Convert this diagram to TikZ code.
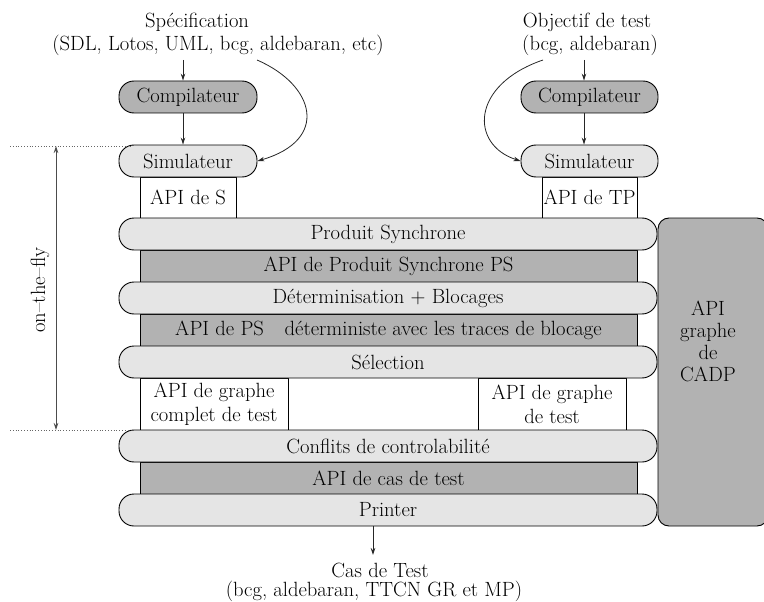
\documentclass[tikz,border=0pt]{standalone}
\usepackage{fontspec}
\usetikzlibrary{arrows.meta}

\definecolor{layerlight}{gray}{0.90}
\definecolor{layerdark}{gray}{0.70}

\tikzset{
  txt/.style={font=\fontsize{20.6}{24}\selectfont, inner sep=0pt},
  pill/.style={txt, draw, line width=0.9pt, rounded corners=15pt, fill=layerlight,
    minimum height=32pt},
  pilldark/.style={pill, fill=layerdark},
  apibox/.style={txt, draw, line width=0.9pt, fill=white, align=center},
  apidark/.style={txt, draw, line width=0.9pt, fill=layerdark, minimum height=32pt},
  flow/.style={line width=0.8pt, black!85, -{Stealth[length=7pt,width=4.5pt]}},
  guide/.style={line width=0.8pt, black!60, dotted},
}

\begin{document}
\begin{tikzpicture}[x=1pt, y=-1pt]
\useasboundingbox (0,0) rectangle (764,602);

% inputs
\node[txt, anchor=base] (spec1) at (197,28) {Spécification};
\node[txt, anchor=base] (spec2) at (218,51) {(SDL, Lotos, UML, bcg, aldebaran, etc)};
\node[txt, anchor=base] (obj1) at (587,28) {Objectif de test};
\node[txt, anchor=base] (obj2) at (590,51) {(bcg, aldebaran)};

% left column
\node[apibox, minimum width=96pt, minimum height=41pt] (apiS) at (188,197.5) {API de S};
\node[pilldark, minimum width=138pt] (c1) at (188,97) {Compilateur};
\node[pill, minimum width=138pt] (s1) at (188,161) {Simulateur};

% right column
\node[apibox, minimum width=95pt, minimum height=41pt] (apiTP) at (589.5,197.5) {API de TP};
\node[pilldark, minimum width=137pt] (c2) at (589.5,97) {Compilateur};
\node[pill, minimum width=137pt] (s2) at (589.5,161) {Simulateur};

% CADP graph API on the right
\node[draw, line width=0.9pt, fill=layerdark, rounded corners=11pt,
  minimum width=110pt, minimum height=308pt] (cadp) at (713,372) {};
\node[txt, align=center, font=\fontsize{20.6}{22}\selectfont] (cadptxt) at (708,341)
  {API\\graphe\\de\\CADP};

% central stack
\node[apidark, minimum width=497pt] (apips) at (388.5,266) {API de Produit Synchrone PS};
\node[apidark, minimum width=497pt] (apidet) at (388.5,330)
  {API de PS\hspace{0.7em} déterministe avec les traces de blocage};
\node[apibox, minimum width=148pt, minimum height=52pt] (apig1) at (214,404)
  {API de graphe\\complet de test};
\node[apibox, minimum width=148pt, minimum height=52pt] (apig2) at (552,404)
  {API de graphe\\de test};
\node[apidark, minimum width=497pt] (apicas) at (388.5,478) {API de cas de test};

\node[pill, minimum width=538pt] (ps) at (388,234) {Produit Synchrone};
\node[pill, minimum width=538pt] (det) at (388,298) {Déterminisation + Blocages};
\node[pill, minimum width=538pt] (sel) at (388,362) {Sélection};
\node[pill, minimum width=538pt] (conf) at (388,446) {Conflits de controlabilité};
\node[pill, minimum width=538pt] (prn) at (388,510) {Printer};

% output
\node[txt, anchor=base] (out1) at (380,577) {Cas de Test};
\node[txt, anchor=base] (out2) at (374,596) {(bcg, aldebaran, TTCN GR et MP)};

% connectors
\coordinate (specL) at (183,60);
\coordinate (specR) at (257,60);
\coordinate (objL) at (543,60);
\coordinate (objR) at (584,60);
\coordinate (outtip) at (373,555);
\draw[flow] (specL) -- (specL |- c1.north);
\draw[flow] (specL |- c1.south) -- (specL |- s1.north);
\draw[flow] (specR) .. controls (315,85) and (330,140) .. (s1.east);
\draw[flow] (objR) -- (objR |- c2.north);
\draw[flow] (objR |- c2.south) -- (objR |- s2.north);
\draw[flow] (objL) .. controls (470,85) and (470,145) .. (s2.west);
\draw[flow] (prn.south -| outtip) -- (outtip);

% on-the-fly extent
\coordinate (otfTop) at (56,146);
\coordinate (otfBot) at (56,430);
\coordinate (gTopL) at (10,146);
\coordinate (gTopR) at (133,146);
\coordinate (gBotL) at (10,430);
\coordinate (gBotR) at (130,430);
\draw[guide] (gTopL) -- (gTopR);
\draw[guide] (gBotL) -- (gBotR);
\draw[line width=0.8pt, black!70, {Stealth[length=7pt,width=4.5pt]}-{Stealth[length=7pt,width=4.5pt]}]
  (otfTop) -- (otfBot);
\node[txt, rotate=90] (otf) at (40,290) {on--the--fly};
\end{tikzpicture}
\end{document}
